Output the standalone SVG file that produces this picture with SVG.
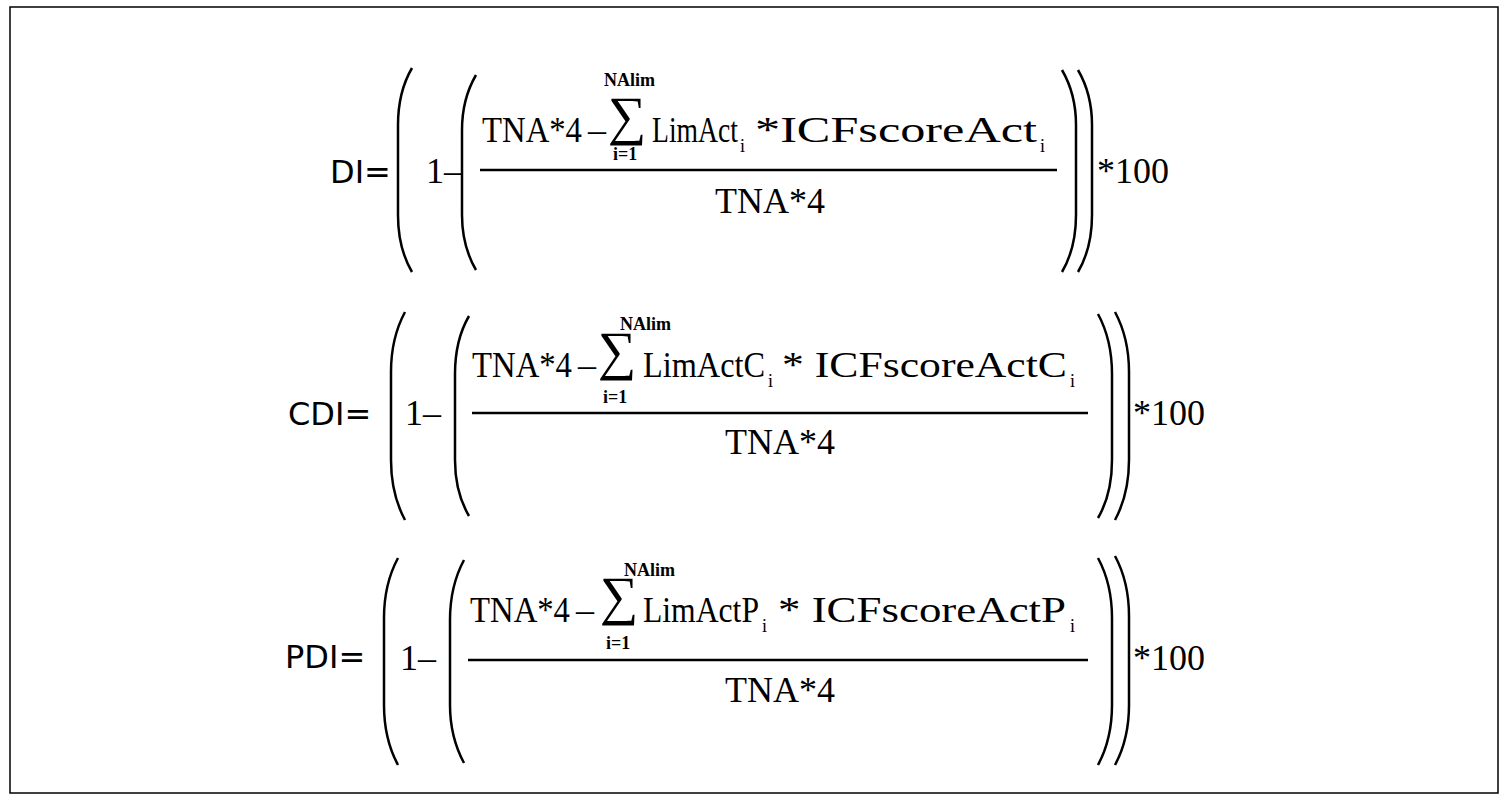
<svg xmlns="http://www.w3.org/2000/svg" width="1509" height="800" viewBox="0 0 1509 800">
<style>
.s{font-family:"Liberation Serif","Times New Roman",serif;font-size:36px;fill:#000}
.sub{font-family:"Liberation Serif",serif;font-size:18px;fill:#000}
.lim{font-family:"Liberation Serif",serif;font-size:18px;font-weight:bold;fill:#000}
.sig{font-family:"Liberation Serif",serif;font-size:54px;fill:#000}
.lab{font-family:"DejaVu Sans",sans-serif;font-size:32px;fill:#000}
.p{fill:none;stroke:#000;stroke-width:2.5}
.bar{stroke:#000;stroke-width:2.5}
</style>
<rect x="10" y="7" width="1488" height="786" fill="#fff" stroke="#000" stroke-width="1.5"/>
<g id="DI">
<text class="lab" x="330" y="183">DI=</text>
<path class="p" d="M412 68 Q398 92 398 125 L398 215 Q398 248 412 272"/>
<path class="p" d="M476 75 Q462 99 462 130 L462 215 Q462 246 476 270"/>
<text class="s" x="426" y="183">1–</text>
<text class="s" x="482" y="142" textLength="100" lengthAdjust="spacingAndGlyphs">TNA*4</text>
<text class="s" x="588" y="142">–</text>
<text class="lim" x="604" y="86">NAlim</text>
<text class="sig" x="608" y="134">∑</text>
<text class="lim" x="613" y="160">i=1</text>
<text class="s" x="652" y="142" textLength="86" lengthAdjust="spacingAndGlyphs">LimAct</text>
<text class="sub" x="740" y="152">i</text>
<text class="s" x="755" y="142" textLength="282" lengthAdjust="spacingAndGlyphs">*ICFscoreAct</text>
<text class="sub" x="1040" y="152">i</text>
<line class="bar" x1="480" y1="170" x2="1057" y2="170"/>
<text class="s" x="770" y="213" text-anchor="middle">TNA*4</text>
<path class="p" d="M1062 70 Q1076 94 1076 125 L1076 215 Q1076 248 1062 272"/>
<path class="p" d="M1078 70 Q1092 94 1092 125 L1092 215 Q1092 248 1078 272"/>
<text class="s" x="1097" y="183">*100</text>
</g>
<g id="CDI">
<text class="lab" x="288" y="425">CDI=</text>
<path class="p" d="M405 312 Q391 338 391 372 L391 460 Q391 494 405 520"/>
<path class="p" d="M469 316 Q455 340 455 374 L455 460 Q455 492 469 516"/>
<text class="s" x="405" y="425">1–</text>
<text class="s" x="472" y="377" textLength="100" lengthAdjust="spacingAndGlyphs">TNA*4</text>
<text class="s" x="578" y="377">–</text>
<text class="lim" x="620" y="330">NAlim</text>
<text class="sig" x="598" y="369">∑</text>
<text class="lim" x="603" y="403">i=1</text>
<text class="s" x="643" y="377" textLength="122" lengthAdjust="spacingAndGlyphs">LimActC</text>
<text class="sub" x="768" y="387">i</text>
<text class="s" x="782" y="377" textLength="285" lengthAdjust="spacingAndGlyphs">* ICFscoreActC</text>
<text class="sub" x="1070" y="387">i</text>
<line class="bar" x1="472" y1="413" x2="1088" y2="413" stroke-width="2"/>
<text class="s" x="780" y="454" text-anchor="middle">TNA*4</text>
<path class="p" d="M1098 314 Q1112 340 1112 374 L1112 460 Q1112 494 1098 518"/>
<path class="p" d="M1115 312 Q1129 338 1129 372 L1129 460 Q1129 494 1115 520"/>
<text class="s" x="1133" y="425">*100</text>
</g>
<g id="PDI">
<text class="lab" x="285" y="668">PDI=</text>
<path class="p" d="M398 558 Q384 584 384 618 L384 705 Q384 739 398 765"/>
<path class="p" d="M464 560 Q450 586 450 620 L450 705 Q450 737 464 763"/>
<text class="s" x="400" y="670">1–</text>
<text class="s" x="470" y="622" textLength="100" lengthAdjust="spacingAndGlyphs">TNA*4</text>
<text class="s" x="576" y="622">–</text>
<text class="lim" x="624" y="576">NAlim</text>
<text class="sig" x="600" y="614">∑</text>
<text class="lim" x="606" y="649">i=1</text>
<text class="s" x="643" y="622" textLength="116" lengthAdjust="spacingAndGlyphs">LimActP</text>
<text class="sub" x="762" y="632">i</text>
<text class="s" x="778" y="622" textLength="288" lengthAdjust="spacingAndGlyphs">* ICFscoreActP</text>
<text class="sub" x="1070" y="632">i</text>
<line class="bar" x1="468" y1="660" x2="1088" y2="660" stroke-width="2"/>
<text class="s" x="780" y="702" text-anchor="middle">TNA*4</text>
<path class="p" d="M1098 558 Q1112 584 1112 618 L1112 705 Q1112 739 1098 765"/>
<path class="p" d="M1115 556 Q1129 582 1129 616 L1129 705 Q1129 739 1115 765"/>
<text class="s" x="1133" y="670">*100</text>
</g>
</svg>
